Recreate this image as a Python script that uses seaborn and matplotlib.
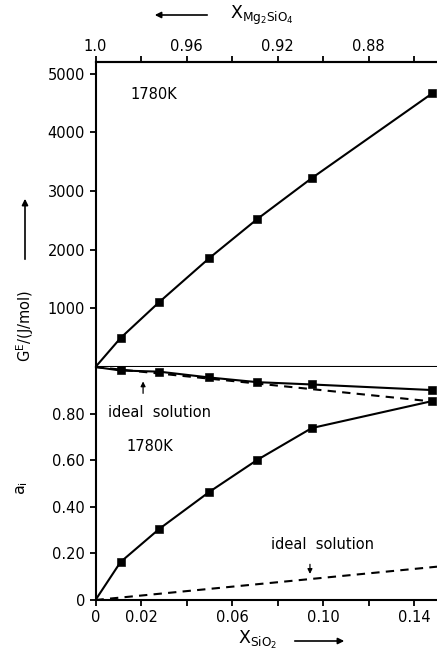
import matplotlib
matplotlib.use('Agg')
import matplotlib.pyplot as plt
import seaborn as sns
import pandas as pd

# ---- data ----
x_sio2 = [0.0, 0.011, 0.028, 0.050, 0.071, 0.095, 0.148]
ge_jmol = [0, 494, 1107, 1857, 2521, 3220, 4668]
a_sio2 = [0.0, 0.163, 0.305, 0.464, 0.601, 0.738, 0.854]
a_mg2sio4 = [1.0, 0.985, 0.980, 0.955, 0.935, 0.925, 0.901]
ideal_sio2_x = [0.0, 0.150]
ideal_sio2_a = [0.0, 0.143]
ideal_mg_x = [0.0, 0.148]
ideal_mg_a = [1.0, 0.852]

bottom_ticks = [0.0, 0.02, 0.04, 0.06, 0.08, 0.10, 0.12, 0.14]
bottom_labels = ['0', '0.02', '', '0.06', '', '0.10', '', '0.14']
top_ticks = [1.0, 0.98, 0.96, 0.94, 0.92, 0.90, 0.88, 0.86]
top_labels = ['1.0', '', '0.96', '', '0.92', '', '0.88', '']
ge_ticks = [1000, 2000, 3000, 4000, 5000]
a_ticks = [0.0, 0.2, 0.4, 0.6, 0.8]
a_labels = ['0', '0.20', '0.40', '0.60', '0.80']

sns.set_theme(style='ticks')
plt.rcParams['font.family'] = ['DejaVu Sans']
plt.rcParams['mathtext.fontset'] = 'dejavusans'
plt.rcParams['text.color'] = 'black'
FS = 10.5

df = pd.DataFrame({'x': x_sio2, 'ge': ge_jmol, 'a_s': a_sio2, 'a_m': a_mg2sio4})
pts = df.iloc[1:]

W, H = 437, 660
fig = plt.figure(figsize=(W / 100, H / 100), dpi=100)
L = 95.5 / W
R = 1.0
ax1 = fig.add_axes([L, 1 - 367 / H, R - L, (367 - 62) / H])
ax2 = fig.add_axes([L, 1 - 600 / H, R - L, (600 - 367) / H])

lw = 1.5
ms = 30

# top panel
sns.lineplot(data=df, x='x', y='ge', ax=ax1, color='black', lw=lw, sort=False)
sns.scatterplot(data=pts, x='x', y='ge', ax=ax1, color='black', marker='s', s=ms,
                edgecolor='black', zorder=5)
ax1.set_xlim(0, 0.15)
ax1.set_ylim(0, 5200)
ax1.set_yticks(ge_ticks)
ax1.set_xticks([])
ax1.set_xlabel('')
ax1.set_ylabel('')
ax1.spines['right'].set_visible(False)
for s in ['left', 'top', 'bottom']:
    ax1.spines[s].set_linewidth(1.5)
    ax1.spines[s].set_color('black')
ax1.tick_params(axis='y', labelsize=FS, length=4, width=1.3, direction='out',
                colors='black', labelcolor='black')
ax1.text(0.0257, 4651, '1780K', fontsize=FS, ha='center', va='center', color='black')

sec = ax1.secondary_xaxis('top', functions=(lambda v: 1 - v, lambda v: 1 - v))
sec.set_xticks(top_ticks)
sec.set_xticklabels(top_labels)
sec.tick_params(labelsize=FS, length=4, width=1.3, direction='out', colors='black', pad=2)
sec.spines['top'].set_linewidth(1.5)

# bottom panel
sns.lineplot(data=df, x='x', y='a_s', ax=ax2, color='black', lw=lw, sort=False)
sns.lineplot(data=df, x='x', y='a_m', ax=ax2, color='black', lw=lw, sort=False)
sns.scatterplot(data=pts, x='x', y='a_s', ax=ax2, color='black', marker='s', s=ms,
                edgecolor='black', zorder=5)
sns.scatterplot(data=pts, x='x', y='a_m', ax=ax2, color='black', marker='s', s=ms,
                edgecolor='black', zorder=5)
ax2.plot(ideal_sio2_x, ideal_sio2_a, color='black', lw=lw, ls=(0, (4, 3)))
ax2.plot(ideal_mg_x, ideal_mg_a, color='black', lw=lw, ls=(0, (4, 3)))
ax2.set_xlim(0, 0.15)
ax2.set_ylim(0, 1.0)
ax2.set_xticks(bottom_ticks)
ax2.set_xticklabels(bottom_labels)
ax2.set_yticks(a_ticks)
ax2.set_yticklabels(a_labels)
ax2.set_xlabel('')
ax2.set_ylabel('')
ax2.spines['right'].set_visible(False)
ax2.spines['top'].set_visible(False)
for s in ['left', 'bottom']:
    ax2.spines[s].set_linewidth(1.5)
    ax2.spines[s].set_color('black')
ax2.tick_params(labelsize=FS, length=4, width=1.3, direction='out', colors='black')
ax2.text(0.024, 0.657, '1780K', fontsize=FS, ha='center', va='center')

# ideal solution annotations
arrow = dict(arrowstyle='-|>', color='black', lw=0.9, mutation_scale=7)
ax2.text(0.0283, 0.805, 'ideal  solution', fontsize=FS, ha='center', va='center')
ax2.annotate('', xy=(0.0209, 0.95), xytext=(0.0209, 0.875), arrowprops=arrow)
ax2.text(0.0999, 0.240, 'ideal  solution', fontsize=FS, ha='center', va='center')
ax2.annotate('', xy=(0.0942, 0.100), xytext=(0.0942, 0.165), arrowprops=arrow)

# axis labels with arrows (figure coords)
def fx(px):
    return px / W

def fy(py):
    return 1 - py / H

fig.text(fx(25), fy(326), r'$\mathrm{G^E}$/(J/mol)', rotation=90, fontsize=FS,
         ha='center', va='center')
fig.text(fx(22), fy(488), r'$\mathrm{a_i}$', rotation=90, fontsize=FS + 1,
         ha='center', va='center')
fig.text(fx(262), fy(15), r'$\mathrm{X_{Mg_2SiO_4}}$', fontsize=FS + 2,
         ha='center', va='center')
fig.text(fx(258), fy(640), r'$\mathrm{X_{SiO_2}}$', fontsize=FS + 2,
         ha='center', va='center')

farrow = dict(arrowstyle='-|>', color='black', lw=1.2, mutation_scale=9)
fig.add_artist(matplotlib.patches.FancyArrowPatch((fx(25), fy(262)), (fx(25), fy(196)),
               transform=fig.transFigure, **farrow))
fig.add_artist(matplotlib.patches.FancyArrowPatch((fx(210), fy(15)), (fx(152), fy(15)),
               transform=fig.transFigure, **farrow))
fig.add_artist(matplotlib.patches.FancyArrowPatch((fx(292), fy(641)), (fx(347), fy(641)),
               transform=fig.transFigure, **farrow))

fig.savefig('out.png', dpi=100, facecolor='white')
